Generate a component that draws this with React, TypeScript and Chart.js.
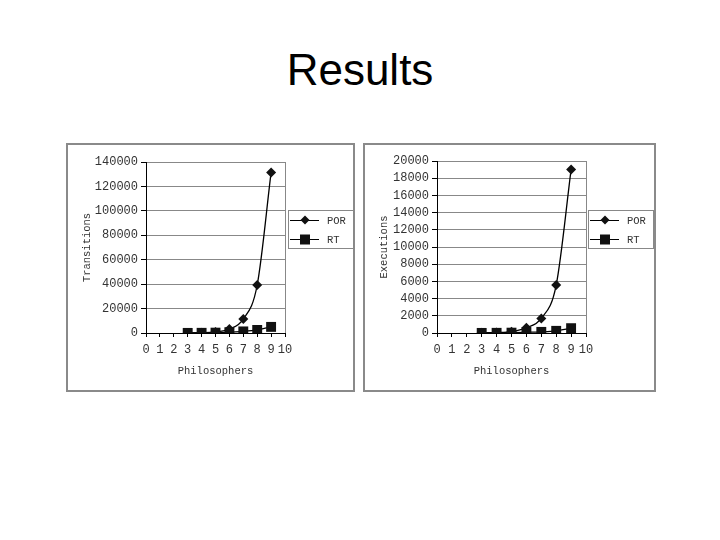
import React, { useEffect, useRef } from "react";
import { Chart, registerables } from "chart.js";

Chart.register(...registerables);

const slideTitle = "Results";
const xAxisTitle = "Philosophers";
const seriesNames = ["POR", "RT"];

const philosophers = [3, 4, 5, 6, 7, 8, 9];
const transitionsPOR = [100, 250, 900, 3300, 11400, 39300, 131500];
const transitionsRT = [80, 150, 300, 700, 1300, 2500, 5000];
const executionsPOR = [20, 50, 150, 620, 1700, 5580, 19000];
const executionsRT = [10, 20, 40, 80, 130, 250, 560];

const MONO = "'Liberation Mono', 'DejaVu Sans Mono', monospace";
const TEXT = "#333";

type Panel = {
  left: number;
  top: number;
  width: number;
  height: number;
  plotLeft: number;
  plotTop: number;
  plotRight: number;
  plotBottom: number;
  legend: { x: number; y: number; w: number; h: number };
  yTitle: string;
  yMax: number;
  yStep: number;
  por: number[];
  rt: number[];
};

const panels: Panel[] = [
  {
    left: 66, top: 143, width: 289, height: 249,
    plotLeft: 80, plotTop: 19, plotRight: 219, plotBottom: 190,
    legend: { x: 222, y: 67, w: 65, h: 38 },
    yTitle: "Transitions", yMax: 140000, yStep: 20000,
    por: transitionsPOR, rt: transitionsRT,
  },
  {
    left: 363, top: 143, width: 293, height: 249,
    plotLeft: 74, plotTop: 18, plotRight: 223, plotBottom: 190,
    legend: { x: 225, y: 67, w: 65, h: 38 },
    yTitle: "Executions", yMax: 20000, yStep: 2000,
    por: executionsPOR, rt: executionsRT,
  },
];

const frameAndLegend = {
  id: "frameAndLegend",
  beforeDatasetsDraw(chart: any) {
    const { ctx, chartArea } = chart;
    ctx.save();
    ctx.strokeStyle = "#888";
    ctx.lineWidth = 1;
    ctx.beginPath();
    const x = Math.round(chartArea.right) + 0.5;
    ctx.moveTo(x, chartArea.top);
    ctx.lineTo(x, chartArea.bottom);
    ctx.stroke();
    ctx.restore();
  },
  afterDraw(chart: any, _args: any, opts: any) {
    const { ctx } = chart;
    const { x, y, w, h } = opts;
    ctx.save();
    ctx.fillStyle = "#fff";
    ctx.fillRect(x, y, w, h);
    ctx.strokeStyle = "#888";
    ctx.lineWidth = 1;
    ctx.strokeRect(x + 0.5, y + 0.5, w, h);
    const rows = [y + 10, y + 29];
    seriesNames.forEach((name, i) => {
      const ry = rows[i];
      ctx.strokeStyle = "#000";
      ctx.lineWidth = 1;
      ctx.beginPath();
      ctx.moveTo(x + 2, ry + 0.5);
      ctx.lineTo(x + 31, ry + 0.5);
      ctx.stroke();
      ctx.fillStyle = "#111";
      const cx = x + 17;
      ctx.beginPath();
      if (i === 0) {
        const r = 4.5;
        ctx.moveTo(cx, ry - r);
        ctx.lineTo(cx + r, ry);
        ctx.lineTo(cx, ry + r);
        ctx.lineTo(cx - r, ry);
        ctx.closePath();
      } else {
        ctx.rect(cx - 5, ry - 4.5, 10, 10);
      }
      ctx.fill();
      ctx.fillStyle = TEXT;
      ctx.font = "10.5px " + MONO;
      ctx.textBaseline = "middle";
      ctx.textAlign = "left";
      ctx.fillText(name, x + 39, ry + 1);
    });
    ctx.restore();
  },
};

function ChartPanel({ p }: { p: Panel }) {
  const ref = useRef<HTMLCanvasElement | null>(null);
  useEffect(() => {
    if (!ref.current) return;
    const chart = new Chart(ref.current, {
      type: "line",
      data: {
        datasets: [
          {
            label: seriesNames[0],
            data: philosophers.map((x, i) => ({ x, y: p.por[i] })),
            borderColor: "#000",
            backgroundColor: "#111",
            borderWidth: 1.3,
            pointStyle: "rectRot",
            pointRadius: 5,
            pointBorderWidth: 0,
            cubicInterpolationMode: "monotone",
            order: 2,
          },
          {
            label: seriesNames[1],
            data: philosophers.map((x, i) => ({ x, y: p.rt[i] })),
            borderColor: "#000",
            backgroundColor: "#111",
            borderWidth: 1.3,
            pointStyle: "rect",
            pointRadius: 7,
            pointBorderWidth: 0,
            cubicInterpolationMode: "monotone",
            order: 1,
          },
        ],
      },
      options: {
        responsive: false,
        animation: false,
        devicePixelRatio: 1,
        layout: {
          padding: {
            left: 0,
            top: p.plotTop,
            right: p.width - p.plotRight,
            bottom: 0,
          },
        },
        plugins: {
          legend: { display: false },
          tooltip: { enabled: false },
          frameAndLegend: p.legend,
        } as any,
        scales: {
          x: {
            type: "linear",
            min: 0,
            max: 10,
            afterFit: (s: any) => { s.height = p.height - p.plotBottom; },
            ticks: {
              stepSize: 1,
              autoSkip: false,
              color: TEXT,
              font: { family: MONO, size: 12 },
              padding: 6,
              maxRotation: 0,
              minRotation: 0,
            },
            grid: {
              drawOnChartArea: false,
              tickLength: 4,
              tickColor: "#000",
            },
            border: { color: "#000", width: 1 },
            title: {
              display: true,
              text: xAxisTitle,
              color: TEXT,
              font: { family: MONO, size: 10.5 },
              padding: { top: 0, bottom: 14 },
            },
          },
          y: {
            type: "linear",
            min: 0,
            max: p.yMax,
            afterFit: (s: any) => { s.width = p.plotLeft; },
            ticks: {
              stepSize: p.yStep,
              autoSkip: false,
              color: TEXT,
              font: { family: MONO, size: 12 },
              padding: 3,
              callback: (v: any) => String(v),
            },
            grid: {
              color: "#888",
              lineWidth: 1,
              tickLength: 5,
              tickColor: "#000",
            },
            border: { color: "#000", width: 1 },
            title: {
              display: true,
              text: p.yTitle,
              color: TEXT,
              font: { family: MONO, size: 10.5 },
              padding: { top: 15, bottom: 0 },
            },
          },
        },
      } as any,
      plugins: [frameAndLegend],
    });
    return () => chart.destroy();
  }, [p]);
  return (
    <>
      <div
        style={{
          position: "absolute",
          left: p.left,
          top: p.top,
          width: p.width,
          height: p.height,
          boxSizing: "border-box",
          border: "2px solid #8a8a8a",
          background: "#fff",
        }}
      />
      <canvas
        ref={ref}
        width={p.width}
        height={p.height}
        style={{ position: "absolute", left: p.left, top: p.top, width: p.width, height: p.height }}
      />
    </>
  );
}

export default function App() {
  return (
    <div
      style={{
        position: "absolute",
        left: 0,
        top: 0,
        width: 720,
        height: 540,
        background: "#fff",
        overflow: "hidden",
      }}
    >
      <div
        style={{
          position: "absolute",
          left: 0,
          top: 48,
          width: 720,
          textAlign: "center",
          fontFamily: "'Liberation Sans', Arial, sans-serif",
          fontSize: 44,
          lineHeight: "44px",
          color: "#000",
        }}
      >
        {slideTitle}
      </div>
      {panels.map((p, i) => (
        <ChartPanel key={i} p={p} />
      ))}
    </div>
  );
}
